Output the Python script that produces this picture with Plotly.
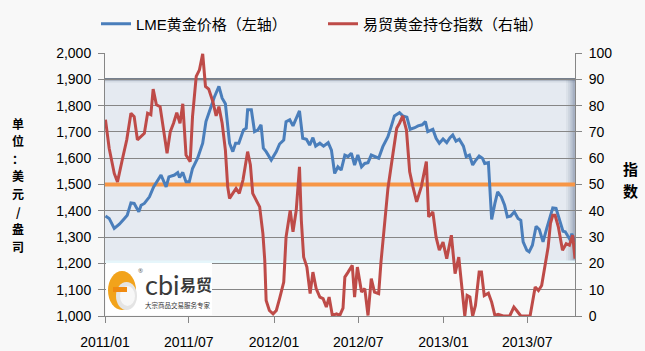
import plotly.graph_objects as go

# ---------------- data ----------------
GOLD_DATES = [
"2011-01-02","2011-01-10","2011-01-21","2011-02-01","2011-02-12","2011-02-18","2011-02-26","2011-03-05","2011-03-15","2011-03-20",
"2011-03-27","2011-04-07","2011-04-16","2011-04-25","2011-05-02","2011-05-13","2011-05-19","2011-05-31","2011-06-07","2011-06-11",
"2011-06-18","2011-06-25","2011-07-02","2011-07-09","2011-07-20","2011-07-31","2011-08-07","2011-08-18","2011-08-25","2011-09-04",
"2011-09-11","2011-09-18","2011-09-23","2011-09-27","2011-10-04","2011-10-10","2011-10-17","2011-10-22","2011-10-27","2011-11-02",
"2011-11-05","2011-11-13","2011-11-20","2011-11-27","2011-12-04","2011-12-09","2011-12-15","2011-12-26","2012-01-06","2012-01-13",
"2012-01-22","2012-01-27","2012-02-04","2012-02-11","2012-02-18","2012-02-25","2012-03-03","2012-03-11","2012-03-18","2012-03-25",
"2012-03-31","2012-04-09","2012-04-17","2012-04-27","2012-05-04","2012-05-11","2012-05-18","2012-05-25","2012-06-02","2012-06-09",
"2012-06-16","2012-06-23","2012-06-30","2012-07-08","2012-07-15","2012-07-22","2012-07-29","2012-08-05","2012-08-14","2012-08-23",
"2012-09-03","2012-09-10","2012-09-17","2012-09-28","2012-10-05","2012-10-14","2012-10-21","2012-10-31","2012-11-07","2012-11-16",
"2012-11-23","2012-11-28","2012-12-09","2012-12-16","2012-12-23","2012-12-31","2013-01-08","2013-01-15","2013-01-21","2013-01-28",
"2013-02-04","2013-02-13","2013-02-19","2013-02-26","2013-03-05","2013-03-12","2013-03-19","2013-03-26","2013-03-31","2013-04-08",
"2013-04-15","2013-04-22","2013-04-28","2013-05-06","2013-05-13","2013-05-19","2013-05-26","2013-06-03","2013-06-11","2013-06-17",
"2013-06-22","2013-06-30","2013-07-05","2013-07-12","2013-07-20","2013-07-27","2013-08-04","2013-08-12","2013-08-19","2013-08-25",
"2013-09-01","2013-09-08","2013-09-16","2013-09-21","2013-09-26","2013-10-02","2013-10-05","2013-10-12"]

GOLD_PRICE = [
1380,1371,1333,1349,1371,1383,1430,1428,1396,1421,
1428,1453,1491,1517,1536,1491,1529,1536,1545,1527,
1546,1510,1510,1561,1600,1657,1739,1796,1832,1873,
1828,1807,1733,1657,1625,1657,1657,1682,1707,1714,
1784,1784,1701,1707,1727,1638,1625,1593,1625,1654,
1669,1739,1746,1723,1752,1780,1676,1672,1650,1678,
1646,1657,1646,1659,1631,1542,1567,1555,1612,1606,
1619,1574,1612,1567,1580,1583,1612,1608,1600,1644,
1682,1720,1761,1773,1761,1756,1710,1716,1723,1727,
1739,1701,1710,1676,1657,1673,1659,1678,1688,1665,
1672,1646,1606,1612,1574,1593,1608,1600,1580,1583,
1367,1428,1472,1453,1421,1377,1380,1396,1371,1364,
1282,1250,1244,1269,1341,1329,1282,1333,1377,1411,
1409,1364,1322,1320,1307,1288,1313,1282]

INDEX_DATES = [
"2011-01-02","2011-01-10","2011-01-21","2011-01-28","2011-02-08","2011-02-17","2011-02-26","2011-03-05","2011-03-12","2011-03-20",
"2011-03-27","2011-04-03","2011-04-10","2011-04-15","2011-04-22","2011-04-30","2011-05-07","2011-05-15","2011-05-22","2011-05-29",
"2011-06-05","2011-06-12","2011-06-18","2011-06-25","2011-07-04","2011-07-09","2011-07-17","2011-07-24","2011-07-31","2011-08-06",
"2011-08-13","2011-08-22","2011-08-29","2011-09-04","2011-09-11","2011-09-18","2011-09-23","2011-09-27","2011-10-04","2011-10-11",
"2011-10-18","2011-10-26","2011-11-05","2011-11-11","2011-11-16","2011-11-24","2011-12-01","2011-12-08","2011-12-12","2011-12-15",
"2011-12-22","2011-12-30","2012-01-06","2012-01-13","2012-01-22","2012-01-27","2012-01-31","2012-02-05","2012-02-11","2012-02-18",
"2012-02-25","2012-02-29","2012-03-05","2012-03-12","2012-03-19","2012-03-25","2012-04-01","2012-04-09","2012-04-16","2012-04-23",
"2012-04-29","2012-05-06","2012-05-15","2012-05-22","2012-05-29","2012-06-02","2012-06-09","2012-06-18","2012-06-23","2012-06-29",
"2012-07-08","2012-07-15","2012-07-22","2012-07-29","2012-08-05","2012-08-14","2012-08-19","2012-08-27","2012-09-03","2012-09-14",
"2012-09-22","2012-09-28","2012-10-05","2012-10-13","2012-10-20","2012-10-27","2012-11-04","2012-11-14","2012-11-25","2012-11-30",
"2012-12-09","2012-12-16","2012-12-23","2012-12-31","2013-01-08","2013-01-18","2013-01-26","2013-02-03","2013-02-10","2013-02-16",
"2013-02-21","2013-02-27","2013-03-05","2013-03-11","2013-03-19","2013-03-24","2013-03-30","2013-04-08","2013-04-15","2013-04-22",
"2013-04-29","2013-05-10","2013-05-24","2013-06-02","2013-06-08","2013-06-17","2013-06-30","2013-07-07","2013-07-18","2013-07-25",
"2013-08-01","2013-08-08","2013-08-15","2013-08-20","2013-08-25","2013-08-30","2013-09-06","2013-09-15","2013-09-23","2013-09-30",
"2013-10-07","2013-10-12"]

INDEX_VALUES = [
74.6,63.8,54.2,51,60,67,77.1,75.8,67,68.2,
69.5,77.1,76.5,86.3,80.3,79.6,71.4,61.9,70.1,73.3,
77.3,73.3,80.7,61.2,58.7,75.8,91.1,93.6,99.7,87.3,
86.3,81.5,76.1,79.6,73.3,63.1,49.1,44.7,46.6,48.5,
46.6,51.7,62.5,57.4,46.6,44,41.5,31.3,21.2,5.9,
2.1,0.8,2.1,6.6,12.9,30,35.2,40.2,32,40.2,
56.7,36.4,22.4,18.6,8.5,16.7,10.4,7.2,6.6,3.4,
7.2,0.2,0.8,0.2,3,14.8,16.7,19.3,7.2,18.6,
9.1,10.4,0.2,14.2,9.1,8.5,20.5,36.4,48.5,61.9,
71.4,73.3,76.1,70.7,54.8,49.1,43.4,49.1,58.7,37.7,
39.6,30,25,28.1,21.8,30.7,16.1,22.4,11,0,
7.8,7.2,0,4,16.7,16.7,7.8,8.7,5.3,0.2,
0.6,0,0,3.4,2.1,0,0,0,11,9.7,
11.6,18.6,26.2,35.2,38.3,38.3,33.9,25,27.5,26.9,
30.7,21.8]

X_TICKS = ["2011-01-01", "2011-07-01", "2012-01-01", "2012-07-01", "2013-01-01", "2013-07-01"]
X_TICK_LABELS = ["2011/01", "2011/07", "2012/01", "2012/07", "2013/01", "2013/07"]
X_RANGE = ["2011-01-01", "2013-10-12"]

SERIES_NAMES = ["LME黄金价格（左轴）", "易贸黄金持仓指数（右轴）"]
LEFT_TITLE = "单位：美元/盎司"
RIGHT_TITLE = "指数"
REF_PRICE = 1500
BAND_LOW, BAND_HIGH = 1200, 1900

# ---------------- layout helpers ----------------
W, H = 645, 351
L, R, T, B = 105, 70, 53, 35
PW, PH = W - L - R, H - T - B


def pxx(x):
    return (x - L) / PW


def pxy(y):
    return (H - B - y) / PH


BLUE = "#4a7ebb"
RED = "#be4b48"
ORANGE = "#f79646"
GRID = "#868686"
BG = "#f8f8f8"
TICKFONT = dict(family="Liberation Sans, Arial, sans-serif", size=14, color="#000000")

fig = go.Figure()
# reference level line (drawn first, under the series, above the gridlines)
fig.add_trace(go.Scatter(x=X_RANGE, y=[REF_PRICE, REF_PRICE], mode="lines", showlegend=False,
                         hoverinfo="skip", line=dict(color=ORANGE, width=4)))
fig.add_trace(go.Scatter(x=GOLD_DATES, y=GOLD_PRICE, mode="lines", name=SERIES_NAMES[0],
                         line=dict(color=BLUE, width=3)))
fig.add_trace(go.Scatter(x=INDEX_DATES, y=INDEX_VALUES, mode="lines", name=SERIES_NAMES[1],
                         line=dict(color=RED, width=3), yaxis="y2"))

shapes = []
# shaded band
shapes.append(dict(type="rect", xref="paper", yref="y", x0=0, x1=1, y0=BAND_LOW, y1=BAND_HIGH,
                   fillcolor="#e5eaf1", line=dict(width=0), layer="below"))
for i, a in enumerate([0.06, 0.09, 0.13, 0.18]):
    shapes.append(dict(type="rect", xref="paper", yref="y", x0=pxx(566 + i * 2.2), x1=1,
                       y0=BAND_LOW, y1=BAND_HIGH, fillcolor="rgba(70,90,120,%.2f)" % a,
                       line=dict(width=0), layer="below"))
shapes.append(dict(type="rect", xref="paper", yref="y", x0=0, x1=1, y0=BAND_HIGH - 12, y1=BAND_HIGH,
                   fillcolor="rgba(70,90,120,0.10)", line=dict(width=0), layer="below"))
shapes.append(dict(type="line", xref="paper", yref="y", x0=0, x1=1, y0=BAND_HIGH, y1=BAND_HIGH,
                   line=dict(color="#4b596b", width=2), layer="below"))
shapes.append(dict(type="line", xref="paper", yref="y", x0=0, x1=1, y0=BAND_LOW + 5, y1=BAND_LOW + 5,
                   line=dict(color="#e6f6fb", width=3), layer="below"))
# logo box
shapes.append(dict(type="rect", xref="paper", yref="paper", x0=pxx(106), x1=pxx(212), y0=pxy(315), y1=pxy(263),
                   fillcolor="#ffffff", line=dict(width=0), layer="above"))
# logo icon
shapes.append(dict(type="circle", xref="paper", yref="paper", x0=pxx(108), x1=pxx(136), y0=pxy(310), y1=pxy(271),
                   fillcolor="#f2a31b", line=dict(width=0), layer="above"))
shapes.append(dict(type="circle", xref="paper", yref="paper", x0=pxx(116), x1=pxx(137), y0=pxy(310), y1=pxy(282),
                   fillcolor="#e4e4e4", line=dict(width=0), layer="above"))
shapes.append(dict(type="circle", xref="paper", yref="paper", x0=pxx(120), x1=pxx(135), y0=pxy(306), y1=pxy(286),
                   fillcolor="#f7f7f7", line=dict(width=0), layer="above"))
shapes.append(dict(type="rect", xref="paper", yref="paper", x0=pxx(113), x1=pxx(127), y0=pxy(292), y1=pxy(287),
                   fillcolor="#f08a10", line=dict(width=0), layer="above"))

annotations = []
# stacked (upright) axis titles, one glyph per line
for i, ch in enumerate(LEFT_TITLE):
    annotations.append(dict(text="<b>%s</b>" % ch, xref="paper", yref="paper", x=pxx(18), y=pxy(123 + i * 17.6),
                            showarrow=False, xanchor="center", yanchor="middle",
                            font=dict(family="Noto Sans CJK SC", size=12, color="#000")))
for i, ch in enumerate(RIGHT_TITLE):
    annotations.append(dict(text="<b>%s</b>" % ch, xref="paper", yref="paper", x=pxx(630), y=pxy(168 + i * 22),
                            showarrow=False, xanchor="center", yanchor="middle",
                            font=dict(family="Noto Sans CJK SC", size=15, color="#000")))
annotations.append(dict(text="cbi", xref="paper", yref="paper", x=pxx(143), y=pxy(284), showarrow=False,
                        xanchor="left", yanchor="middle", font=dict(family="Lato", size=27, color="#3a3a3a")))
annotations.append(dict(text="<b>易贸</b>", xref="paper", yref="paper", x=pxx(178), y=pxy(284), showarrow=False,
                        xanchor="left", yanchor="middle", font=dict(family="Noto Sans CJK SC", size=16, color="#3a3a3a")))
annotations.append(dict(text="大宗商品交易服务专家", xref="paper", yref="paper", x=pxx(178), y=pxy(305),
                        showarrow=False, xanchor="center", yanchor="middle",
                        font=dict(family="Noto Sans CJK SC", size=6.5, color="#333")))
annotations.append(dict(text="®", xref="paper", yref="paper", x=pxx(140), y=pxy(271), showarrow=False,
                        xanchor="center", yanchor="middle", font=dict(size=6, color="#555")))

fig.update_layout(
    width=W, height=H,
    margin=dict(l=L, r=R, t=T, b=B, autoexpand=False),
    paper_bgcolor=BG, plot_bgcolor=BG,
    showlegend=True,
    legend=dict(orientation="h", x=pxx(96), y=pxy(24), xanchor="left", yanchor="middle",
                font=dict(family="Liberation Sans, Noto Sans CJK SC", size=15, color="#000"),
                bgcolor="rgba(0,0,0,0)", entrywidth=182, entrywidthmode="pixels"),
    xaxis=dict(type="date", range=X_RANGE, tickvals=X_TICKS, ticktext=X_TICK_LABELS, automargin=False,
               showgrid=False, zeroline=False, showline=True, linecolor=GRID, linewidth=1,
               ticks="outside", ticklen=6, tickcolor=GRID, tickfont=TICKFONT, ticklabelstandoff=7),
    yaxis=dict(range=[1000, 2000], dtick=100, tickformat=",d", showgrid=True, gridcolor=GRID, gridwidth=1,
               zeroline=False, showline=True, linecolor=GRID, ticks="outside", ticklen=6, tickcolor=GRID,
               tickfont=TICKFONT, ticklabelstandoff=4, automargin=False),
    yaxis2=dict(range=[0, 100], dtick=10, overlaying="y", side="right", showgrid=False, zeroline=False,
                showline=True, linecolor=GRID, ticks="outside", ticklen=6, tickcolor=GRID,
                tickfont=TICKFONT, ticklabelstandoff=4, automargin=False),
    shapes=shapes,
    annotations=annotations,
)

fig.write_html("out.html")
